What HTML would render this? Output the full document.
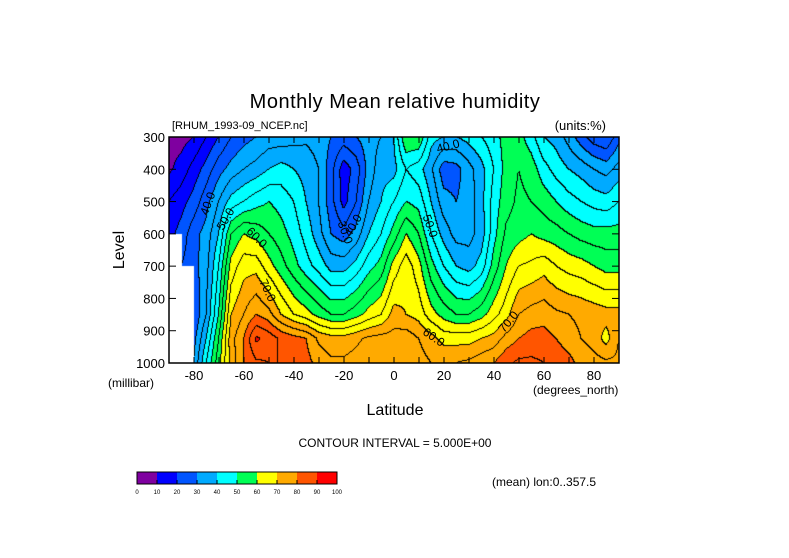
<!DOCTYPE html>
<html><head><meta charset="utf-8"><style>
body{margin:0;background:#fff;width:789px;height:558px;overflow:hidden;position:relative;font-family:"Liberation Sans",sans-serif}
#plot{position:absolute;left:169px;top:137px}
svg{position:absolute;left:0;top:0}
</style></head><body>
<canvas id="plot" width="450" height="226"></canvas>
<svg id="ov" width="789" height="558"></svg>
<script>
const lats=[-90,-85,-80,-75,-70,-65,-60,-55,-50,-45,-40,-35,-30,-25,-20,-15,-10,-5,0,5,10,15,20,25,30,35,40,45,50,55,60,65,70,75,80,85,90];
const levels=[300,400,500,600,700,850,925,1000];
const rh300=[8,8,10,15,20,25,28,30,32,32,33,34,33,30,28,30,33,35,40,55,55,42,40,40,42,45,48,52,52,47,40,38,33,27,22,20,28];
const rh400=[9,12,17,22,28,32,35,37,40,42,40,38,35,27,17,22,32,38,38,45,42,36,27,28,33,38,45,52,55,53,47,43,40,38,35,33,37];
const rh500=[15,18,22,28,35,42,45,48,50,48,45,40,35,27,18,25,35,40,45,50,48,40,32,30,32,38,47,53,56,55,53,50,47,45,43,42,45];
const rh600=[18,22,28,32,40,55,60,58,55,52,48,43,37,30,27,32,40,45,52,60,55,45,38,33,33,37,48,56,58,60,58,57,55,53,52,52,52];
const rh700=[null,25,28,33,45,62,68,68,62,57,52,47,43,38,38,42,48,52,62,68,62,52,45,40,38,42,52,60,65,66,68,65,63,62,60,58,58];
const rh850=[null,null,25,35,50,70,75,80,77,70,65,62,58,55,55,58,62,65,72,70,68,62,58,55,55,58,63,68,75,77,78,76,75,74,73,72,72];
const rh925=[null,null,28,40,55,73,80,91,88,84,82,80,74,72,72,74,76,77,77,78,75,72,68,68,68,70,72,77,80,82,82,80,77,75,73,68,75];
const rh1000=[null,null,30,45,58,72,80,84,85,85,83,82,78,76,76,77,78,79,80,78,77,75,75,75,76,78,80,84,86,86,85,84,82,78,77,76,76];
const rows=[rh300,rh400,rh500,rh600,rh700,rh850,rh925,rh1000];
const cbColors=["#7f00a0","#0000ff","#0055ff","#00aaff","#00ffff","#00ff55","#ffff00","#ffaa00","#ff5500","#ff0000"];
const cbTicks=[0,10,20,30,40,50,60,70,80,90,100];
const yTicks=[300,400,500,600,700,800,900,1000];
const xTicks=[-80,-60,-40,-20,0,20,40,60,80];

const W=450,H=226;
const xOf=lat=>(lat+90)/180*W;
const yOf=p=>(p-300)/700*H;
function sample(lat,p){
  let i=0;while(i<lats.length-2&&lat>lats[i+1])i++;
  let j=0;while(j<levels.length-2&&p>levels[j+1])j++;
  const tx=(lat-lats[i])/(lats[i+1]-lats[i]),ty=(p-levels[j])/(levels[j+1]-levels[j]);
  const a=rows[j][i],b=rows[j][i+1],c=rows[j+1][i],d=rows[j+1][i+1];
  if(a==null||b==null||c==null||d==null)return null;
  return (a*(1-tx)+b*tx)*(1-ty)+(c*(1-tx)+d*tx)*ty;
}
const cv=document.getElementById('plot'),ctx=cv.getContext('2d');
const img=ctx.createImageData(W,H);
const bins=new Array(W*H);
for(let y=0;y<H;y++)for(let x=0;x<W;x++){
  const v=sample(-90+(x+0.5)/W*180,300+(y+0.5)/H*700);
  bins[y*W+x]=v==null?-1:Math.floor(v/5);
}
function hex(h){return [parseInt(h.substr(1,2),16),parseInt(h.substr(3,2),16),parseInt(h.substr(5,2),16)];}
const rgb=cbColors.map(hex);
for(let y=0;y<H;y++)for(let x=0;x<W;x++){
  const k=y*W+x,b=bins[k];let c;
  if(b<0)c=[255,255,255];
  else{
    const r=(x<W-1&&bins[k+1]!=b&&bins[k+1]>=0)||(y<H-1&&bins[k+W]!=b&&bins[k+W]>=0);
    c=r?[0,0,0]:rgb[Math.max(0,Math.min(9,Math.floor(b/2)))];
  }
  img.data[k*4]=c[0];img.data[k*4+1]=c[1];img.data[k*4+2]=c[2];img.data[k*4+3]=255;
}
ctx.putImageData(img,0,0);

const NS="http://www.w3.org/2000/svg",ov=document.getElementById('ov');
function el(t,at,txt){const e=document.createElementNS(NS,t);for(const k in at)e.setAttribute(k,at[k]);if(txt!=null)e.textContent=txt;ov.appendChild(e);return e;}
const X0=169,Y0=137;
let e;
e=el('rect',{x:X0,y:Y0,width:W,height:H,fill:'none',stroke:'#000','stroke-width':1.5});


yTicks.forEach(p=>{
  const y=Y0+yOf(p);
  e=el('line',{x1:X0,x2:X0+7,y1:y,y2:y,stroke:'#000'});
  
  
  el('line',{x1:X0+W-7,x2:X0+W,y1:y,y2:y,stroke:'#000'});
  e=el('text',{x:X0-4,y:y+5,'text-anchor':'end','font-size':13},String(p));
  
  
});
for(let l=-90;l<=90;l+=10){
  const x=X0+xOf(l);
  el('line',{x1:x,x2:x,y1:Y0+H,y2:Y0+H-6,stroke:'#000'});
  el('line',{x1:x,x2:x,y1:Y0,y2:Y0+6,stroke:'#000'});
}
xTicks.forEach(l=>{
  const x=X0+xOf(l);
  e=el('text',{x:x,y:380,'text-anchor':'middle','font-size':13},String(l));
  
  
});
[[-73,510,'40.0',-70],[-66,560,'50.0',-60],[-56,620,'60.0',45],[-52,780,'70.0',65],[-21,600,'30.0',70],[-15,580,'40.0',-60],[13,580,'50.0',70],[22,340,'40.0',-15],[15,930,'60.0',35],[47,880,'70.0',-50]].forEach(c=>{
  const x=X0+xOf(c[0]),y=Y0+yOf(c[1]);
  e=el('text',{x:x,y:y,'font-size':12,'text-anchor':'middle',transform:`rotate(${c[3]} ${x} ${y})`},c[2]);
  
  
});
e=el('text',{x:395,y:108,'text-anchor':'middle','font-size':20,'letter-spacing':'0.5'},'Monthly Mean relative humidity');

e=el('text',{x:172,y:129,'font-size':11},'[RHUM_1993-09_NCEP.nc]');

e=el('text',{x:606,y:130,'text-anchor':'end','font-size':13},'(units:%)');

e=el('text',{x:108,y:387,'font-size':12},'(millibar)');

e=el('text',{x:533,y:394,'font-size':12},'(degrees_north)');

e=el('text',{x:395,y:415,'text-anchor':'middle','font-size':16},'Latitude');

e=el('text',{x:124,y:250,'text-anchor':'middle','font-size':16,transform:'rotate(-90 124 250)'},'Level');

e=el('text',{x:395,y:447,'text-anchor':'middle','font-size':12},'CONTOUR INTERVAL = 5.000E+00');

e=el('text',{x:492,y:486,'font-size':12},'(mean) lon:0..357.5');

const cbX=137,cbW=200,cbY=472,cbH=12;
cbColors.forEach((c,i)=>{
  e=el('rect',{x:cbX+i*cbW/10,y:cbY,width:cbW/10,height:cbH,fill:c});
  
  
});
el('rect',{x:cbX,y:cbY,width:cbW,height:cbH,fill:'none',stroke:'#000'});
cbTicks.forEach((t,i)=>{
  const x=cbX+i*cbW/10;
  el('line',{x1:x,x2:x,y1:cbY+cbH-4,y2:cbY+cbH,stroke:'#000'});
  e=el('text',{x:x,y:494,'text-anchor':'middle','font-size':6},String(t));
  
  
});
</script>
</body></html>
